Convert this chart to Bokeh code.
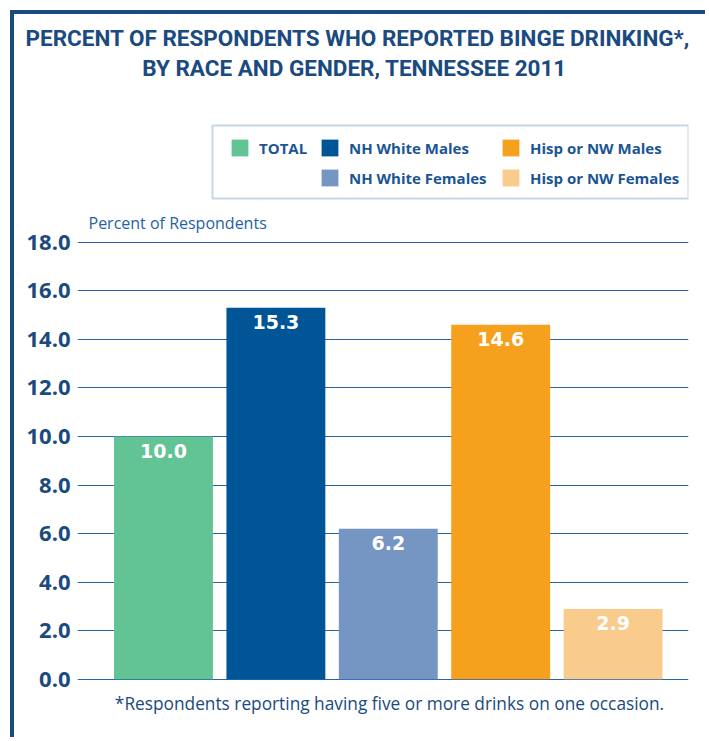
from bokeh.plotting import figure
from bokeh.models import (ColumnDataSource, Range1d, FixedTicker, Label,
                          BoxAnnotation, Legend, LegendItem, Title)
from bokeh.core.properties import value
from bokeh.embed import file_html
from bokeh.resources import INLINE

# ---- data ----
categories = ["TOTAL", "NH White Males", "NH White Females", "Hisp or NW Males", "Hisp or NW Females"]
percents = [10.0, 15.3, 6.2, 14.6, 2.9]
bar_colors = ["#62c394", "#005596", "#7595c3", "#f5a11e", "#f9cb8c"]
y_ticks = [0, 2, 4, 6, 8, 10, 12, 14, 16, 18]
y_tick_labels = ["0.0", "2.0", "4.0", "6.0", "8.0", "10.0", "12.0", "14.0", "16.0", "18.0"]
title_lines = ["PERCENT OF RESPONDENTS WHO REPORTED BINGE DRINKING*,",
               "BY RACE AND GENDER, TENNESSEE 2011"]
y_label = "Percent of Respondents"
footnote = "*Respondents reporting having five or more drinks on one occasion."

DARK = "#1a4a80"
TEXT_BLUE = "#1b5592"

src = ColumnDataSource(dict(
    pos=list(range(len(categories))), cat=categories, val=percents, color=bar_colors,
    lab=["%.1f" % v for v in percents],
))

W, H = 695, 727
TOP = 44
PX_PER_UNIT = 24.28
zero_from_bottom = 741 - 678.8
y_start = -zero_from_bottom / PX_PER_UNIT
y_end = (H - TOP - zero_from_bottom) / PX_PER_UNIT

# horizontal scale: one category slot = 112.4 px over a 611 px frame
x_start = -0.765
x_end = x_start + 611 / 112.4

p = figure(
    width=W, height=H, title=None,
    x_range=Range1d(x_start, x_end),
    y_range=Range1d(y_start, y_end),
    output_backend="svg", toolbar_location=None,
    min_border_left=63, min_border_right=21, min_border_top=TOP, min_border_bottom=0,
    styles={"margin-left": "10px", "margin-top": "10px",
            "border-left": "4px solid " + DARK, "border-top": "4px solid " + DARK},
)
p.outline_line_color = None
p.background_fill_color = "white"
p.border_fill_color = "white"

bars = p.vbar(x="pos", top="val", width=0.88, color="color", line_color=None, source=src)
p.text(x="pos", y="val", text="lab", source=src, text_color="white",
       text_font=value("DejaVu Sans"), text_font_style="bold", text_font_size="19px",
       text_align="center", text_baseline="middle", y_offset=14)

# axes / grid
p.xaxis.visible = False
p.xgrid.visible = False
ax = p.yaxis[0]
ax.ticker = FixedTicker(ticks=y_ticks)
ax.major_label_overrides = {t: l for t, l in zip(y_ticks, y_tick_labels)}
ax.axis_line_color = None
ax.major_tick_line_color = None
ax.minor_tick_line_color = None
ax.major_tick_out = 0
ax.major_tick_in = 0
ax.major_label_standoff = 7
ax.major_label_text_font = "Open Sans"
ax.major_label_text_font_style = "bold"
ax.major_label_text_font_size = "22px"
ax.major_label_text_color = DARK
ax.major_label_text_baseline = "alphabetic"
p.ygrid.ticker = FixedTicker(ticks=y_ticks)
p.ygrid.grid_line_color = "#2566a6"
p.ygrid.grid_line_width = 1.2

# title line 1 (wider than the frame, so it sits in the panel above it)
p.add_layout(Title(text=title_lines[0], align="left", offset=-52, standoff=16,
                   text_font="Roboto", text_font_style="bold",
                   text_font_size="22.5px", text_color=DARK), "above")
# title line 2 (coords relative to frame bottom-left, y up)
p.add_layout(Label(x=277, y=674, x_units="screen", y_units="screen", text=title_lines[1],
                   text_align="center", text_baseline="middle",
                   text_font="Roboto", text_font_style="bold",
                   text_font_size="22.5px", text_color=DARK))

# y axis label
p.add_layout(Label(x=11, y=519, x_units="screen", y_units="screen", text=y_label,
                   text_align="left", text_baseline="middle",
                   text_font="Open Sans", text_font_size="16px", text_color="#2463a3"))

# footnote
p.add_layout(Label(x=312, y=38, x_units="screen", y_units="screen", text=footnote,
                   text_align="center", text_baseline="middle",
                   text_font="Open Sans", text_font_size="17.3px", text_color=DARK))

# legend box
p.add_layout(BoxAnnotation(left=135, right=611, top=616, bottom=543,
                           left_units="screen", right_units="screen",
                           top_units="screen", bottom_units="screen",
                           fill_color=None, fill_alpha=0, line_color="#3a78b4", line_width=2))

def make_legend(idxs, loc):
    items = [LegendItem(label=categories[i], renderers=[bars], index=i) for i in idxs]
    lg = Legend(items=items, location=loc, orientation="vertical",
                glyph_width=21, glyph_height=21, label_height=21, spacing=9,
                padding=0, margin=0, label_standoff=9,
                border_line_color=None, background_fill_alpha=0,
                label_text_font="Open Sans", label_text_font_style="bold",
                label_text_font_size="15px", label_text_color=TEXT_BLUE)
    p.add_layout(lg, "center")

make_legend([0], (152, 583))
make_legend([1, 2], (242, 553))
make_legend([3, 4], (423, 553))

open("out.html", "w").write(file_html(p, INLINE))
